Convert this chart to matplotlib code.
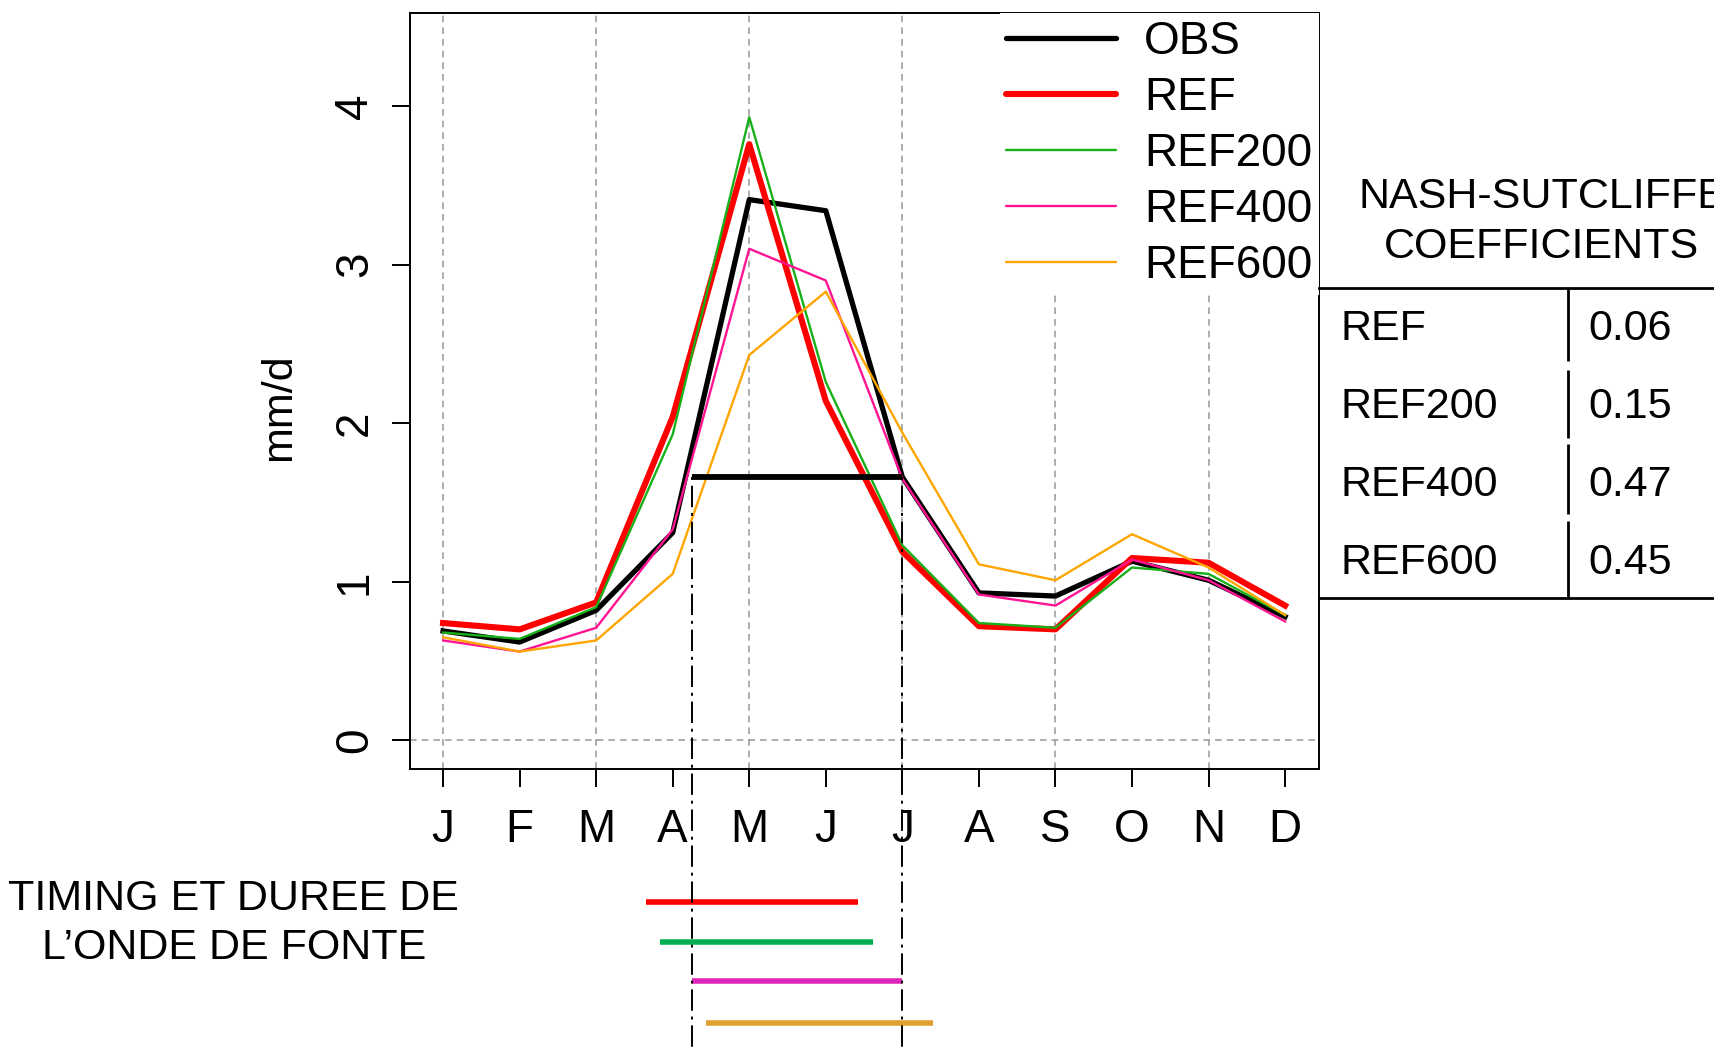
import matplotlib
matplotlib.use('Agg')
import matplotlib.pyplot as plt

plt.rcParams['font.family'] = ['Liberation Sans', 'DejaVu Sans']

# Data
months = ['J', 'F', 'M', 'A', 'M', 'J', 'J', 'A', 'S', 'O', 'N', 'D']
month_idx = list(range(1, 13))

obs = [0.69, 0.62, 0.82, 1.31, 3.41, 3.34, 1.66, 0.93, 0.91, 1.13, 1.01, 0.78]
ref = [0.74, 0.70, 0.87, 2.04, 3.76, 2.14, 1.19, 0.72, 0.70, 1.15, 1.12, 0.85]
ref200 = [0.68, 0.64, 0.84, 1.93, 3.93, 2.26, 1.23, 0.74, 0.71, 1.09, 1.05, 0.79]
ref400 = [0.63, 0.56, 0.71, 1.33, 3.10, 2.90, 1.65, 0.92, 0.85, 1.14, 1.01, 0.75]
ref600 = [0.65, 0.56, 0.63, 1.05, 2.43, 2.83, 1.94, 1.11, 1.01, 1.30, 1.09, 0.79]

series_names = ['OBS', 'REF', 'REF200', 'REF400', 'REF600']
series_values = [obs, ref, ref200, ref400, ref600]
series_colors = ['black', '#ff0000', '#18b018', '#ff1493', '#ffa500']
series_widths = [3.8, 4.4, 1.7, 1.7, 1.7]

# melt wave of OBS (start, end, level)
obs_wave = [4.25, 7.0, 1.66]

# timing / duration of the melt wave for each run
wave_start = [3.65, 3.84, 4.25, 4.44]
wave_end = [6.42, 6.62, 7.00, 7.40]
wave_row = [-1.02, -1.27, -1.52, -1.78]
wave_colors = ['#ff0000', '#00b050', '#e026b8', '#e0a030']

# Nash-Sutcliffe table
nse_names = ['REF', 'REF200', 'REF400', 'REF600']
nse_values = ['0.06', '0.15', '0.47', '0.45']

fig = plt.figure(figsize=(17.15, 10.51), dpi=100)
ax = fig.add_axes([0.2392, 0.2684, 0.7691 - 0.2392, 0.9875 - 0.2684])

# dashed grey grid
for m in [1, 3, 5, 7, 9, 11]:
    ax.axvline(m, color='#a0a0a0', lw=1.2, ls=(0, (4, 3)), zorder=1)
ax.axhline(0, color='#a0a0a0', lw=1.2, ls=(0, (4, 3)), zorder=1)

for name, vals, col, lw in zip(series_names, series_values, series_colors, series_widths):
    ax.plot(month_idx, vals, color=col, lw=lw, label=name, zorder=3)

# OBS melt wave bar and dot-dash limits
ax.plot(obs_wave[:2], [obs_wave[2], obs_wave[2]], color='black', lw=4.2, zorder=4,
        solid_capstyle='butt')
for xv in obs_wave[:2]:
    ax.plot([xv, xv], [obs_wave[2], -2.3], color='black', lw=1.4,
            ls=(0, (1.5, 3, 11, 3)), clip_on=False, zorder=4)

# timing bars below the axes
for s, e, yv, col in zip(wave_start, wave_end, wave_row, wave_colors):
    ax.plot([s, e], [yv, yv], color=col, lw=4, clip_on=False, solid_capstyle='butt')

ax.set_xlim(0.571, 12.443)
ax.set_ylim(-0.18, 4.586)
ax.set_xticks(month_idx)
ax.set_xticklabels(months)
ax.set_yticks([0, 1, 2, 3, 4])
ax.tick_params(axis='both', direction='out', length=13, width=1.4, labelsize=33)
ax.tick_params(axis='x', pad=15)
ax.tick_params(axis='y', pad=11)
for lab in ax.get_yticklabels():
    lab.set_rotation(90)
    lab.set_va('center')
for sp in ax.spines.values():
    sp.set_linewidth(1.4)

leg = ax.legend(loc='upper right', bbox_to_anchor=(1.0, 1.0), fontsize=33,
                handlelength=2.4, handletextpad=0.6, labelspacing=0.26,
                borderpad=0.15, borderaxespad=0.0, frameon=True, fancybox=False,
                edgecolor='none', facecolor='white', framealpha=1)
for line in leg.get_lines():
    line.set_solid_capstyle('round')

# overlay in pixel coordinates for the text and the table
ov = fig.add_axes([0, 0, 1, 1], zorder=5)
ov.set_xlim(0, 1715)
ov.set_ylim(1051, 0)
ov.axis('off')
ov.patch.set_visible(False)

ov.text(279, 407, 'mm/d', rotation=90, ha='center', va='center', fontsize=31)

ov.text(233, 910, 'TIMING ET DUREE DE', ha='center', va='baseline', fontsize=31)
ov.text(234, 959, 'L\u2019ONDE DE FONTE', ha='center', va='baseline', fontsize=31)

ov.text(1542, 208, 'NASH-SUTCLIFFE', ha='center', va='baseline', fontsize=31)
ov.text(1542, 258.5, 'COEFFICIENTS', ha='center', va='baseline', fontsize=31)

ov.plot([1319, 1715], [287.7, 287.7], color='black', lw=2)
ov.plot([1319, 1715], [598.3, 598.3], color='black', lw=2)
row_top = [287.7, 370, 444, 521]
row_bot = [361, 437.5, 514, 598.3]
row_base = [340.3, 417.9, 495.6, 574.4]
for name, val, t, b, yb in zip(nse_names, nse_values, row_top, row_bot, row_base):
    ov.plot([1568.5, 1568.5], [t, b], color='black', lw=2, solid_capstyle='butt')
    ov.text(1341, yb, name, ha='left', va='baseline', fontsize=31)
    ov.text(1588, yb, val, ha='left', va='baseline', fontsize=31)

fig.savefig('out.png', dpi=100)
plt.close()
